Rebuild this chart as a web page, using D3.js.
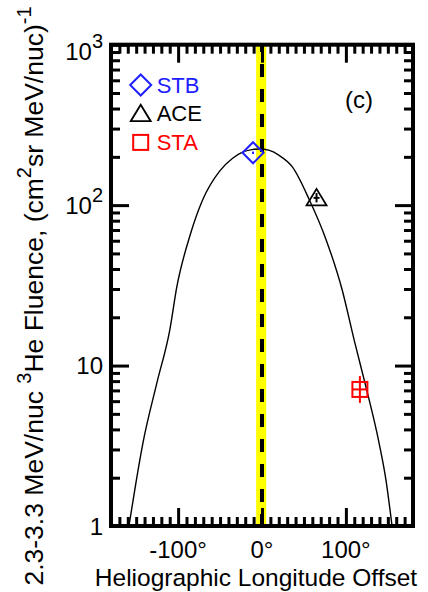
<!DOCTYPE html>
<html>
<head>
<meta charset="utf-8">
<script src="https://cdn.jsdelivr.net/npm/d3@7"></script>
<style>
  body { margin: 0; background: #fff; }
  text { font-family: "Liberation Sans", Arial, sans-serif; }
</style>
</head>
<body>
<script>
// fitted curve (longitude offset deg, fluence)
const curveLon = [-158.6, -150, -141.9, -125.3, -109.9, -101.5, -86.1, -70.7, -50.5, -35, -23.2, -12, -3, 8, 20, 36.2, 56.4, 76.6, 95.6, 109.9, 124.1, 139.5, 148, 155]
const curveVal = [1.0, 1.9, 3.3, 7.8, 16.7, 31, 64, 108, 163, 196, 214, 222, 224, 220, 205, 173, 108, 60.5, 29.6, 14.4, 7.3, 3.3, 1.9, 1.0]

// spacecraft points
const scNames = ["STB", "ACE", "STA"]
const scColors = ["#2020ff", "#000000", "#ff0000"]
const scLon = [-10.7, 65, 116.7]
const scVal = [212, 111, 7.1]
const scLow = [212, 104, 5.85]
const scHigh = [212, 119, 8.6]

const xTickVals = [-100, 0, 100]
const xTickLabels = ["-100°", "0°", "100°"]
const yTickVals = [1, 10, 100, 1000]
const yTickBase = ["1", "10", "10", "10"]
const yTickSup = ["", "", "2", "3"]

const bandLon = [-7, 5]
const panelLabel = "(c)"

const W = 428, H = 592
const pL = 111, pT = 44.7, pR = 413, pB = 526

const svg = d3.select("body").append("svg")
    .attr("width", W).attr("height", H)

svg.append("clipPath").attr("id", "plot")
   .append("rect").attr("x", pL).attr("y", pT).attr("width", pR - pL).attr("height", pB - pT)

const x = d3.scaleLinear().domain([-180, 180]).range([pL, pR])
const y = d3.scaleLog().domain([1, 1000]).range([pB, pT])

// yellow band + dashed zero line
svg.append("rect")
   .attr("x", x(bandLon[0]))
   .attr("y", pT)
   .attr("width", x(bandLon[1]) - x(bandLon[0]))
   .attr("height", pB - pT)
   .attr("fill", "#ffff00")

svg.append("line")
   .attr("x1", x(0)).attr("x2", x(0))
   .attr("y1", pB).attr("y2", pT)
   .attr("stroke", "#000")
   .attr("stroke-width", 4)
   .attr("stroke-dasharray", "13,12")
   .attr("stroke-dashoffset", 1)

// curve
const pts = curveLon.map((d, i) => [d, curveVal[i]])
svg.append("path")
   .datum(pts)
   .attr("clip-path", "url(#plot)")
   .attr("fill", "none")
   .attr("stroke", "#000")
   .attr("stroke-width", 1.4)
   .attr("d", d3.line().x(d => x(d[0])).y(d => y(d[1])).curve(d3.curveMonotoneX))

// axes (ticks pointing in)
const minorX = d3.range(-170, 180, 10).filter(d => d % 100 !== 0)
const minorY = []
;[1, 10, 100].forEach(dec => { for (let k = 2; k < 10; k++) minorY.push(dec * k) })

function noText(g) { g.selectAll("text").remove(); g.select(".domain").remove() }

const axes = [
  [d3.axisBottom(x).tickValues(minorX).tickSize(-9), `translate(0,${pB})`],
  [d3.axisBottom(x).tickValues(xTickVals).tickSize(-18), `translate(0,${pB})`],
  [d3.axisTop(x).tickValues(minorX).tickSize(-9), `translate(0,${pT})`],
  [d3.axisTop(x).tickValues(xTickVals).tickSize(-18), `translate(0,${pT})`],
  [d3.axisLeft(y).tickValues(minorY).tickSize(-9), `translate(${pL},0)`],
  [d3.axisLeft(y).tickValues(yTickVals).tickSize(-18), `translate(${pL},0)`],
  [d3.axisRight(y).tickValues(minorY).tickSize(-9), `translate(${pR},0)`],
  [d3.axisRight(y).tickValues(yTickVals).tickSize(-18), `translate(${pR},0)`]
]
axes.forEach(a => {
  svg.append("g").attr("transform", a[1]).call(a[0]).call(noText)
     .selectAll("line").attr("stroke", "#000").attr("stroke-width", 3)
})

// frame
svg.append("rect")
   .attr("x", pL).attr("y", pT)
   .attr("width", pR - pL).attr("height", pB - pT)
   .attr("fill", "none").attr("stroke", "#000").attr("stroke-width", 4)

// tick labels
svg.selectAll(".xl").data(xTickVals).enter().append("text")
   .attr("x", d => x(d))
   .attr("y", 558)
   .attr("text-anchor", "middle")
   .attr("font-size", 24)
   .text((d, i) => xTickLabels[i])

yTickVals.forEach((v, i) => {
  const t = svg.append("text")
     .attr("x", 103)
     .attr("y", y(v) + (i === 3 ? 15 : 8.5))
     .attr("text-anchor", "end")
     .attr("font-size", 24)
  t.append("tspan").text(yTickBase[i])
  if (yTickSup[i]) t.append("tspan").attr("dy", -12).attr("font-size", 20).text(yTickSup[i])
})

// axis titles
svg.append("text")
   .attr("x", 256).attr("y", 586)
   .attr("text-anchor", "middle")
   .attr("font-size", 24.5)
   .text("Heliographic Longitude Offset")

const yt = svg.append("text")
   .attr("transform", "translate(43,296) rotate(-90)")
   .attr("text-anchor", "middle")
   .attr("font-size", 26.5)
yt.append("tspan").text("2.3-3.3 MeV/nuc ")
yt.append("tspan").attr("font-size", 20).attr("dy", -12).text("3")
yt.append("tspan").attr("dy", 12).text("He Fluence, (cm")
yt.append("tspan").attr("font-size", 20).attr("dy", -12).text("2")
yt.append("tspan").attr("dy", 12).text("sr MeV/nuc)")
yt.append("tspan").attr("font-size", 20).attr("dy", -12).text("-1")

svg.append("text")
   .attr("x", 345).attr("y", 108)
   .attr("font-size", 24)
   .text(panelLabel)

// marker shapes
function marker(g, name, cx, cy, color) {
  if (name === "STB") {
    g.append("path").attr("d", `M${cx},${cy - 10.5}L${cx + 10.5},${cy}L${cx},${cy + 10.5}L${cx - 10.5},${cy}Z`)
     .attr("fill", "none").attr("stroke", color).attr("stroke-width", 2)
  } else if (name === "ACE") {
    g.append("path").attr("d", `M${cx},${cy - 9}L${cx + 10},${cy + 7.5}L${cx - 10},${cy + 7.5}Z`)
     .attr("fill", "none").attr("stroke", color).attr("stroke-width", 1.8)
  } else {
    g.append("rect").attr("x", cx - 7.5).attr("y", cy - 7.5).attr("width", 15).attr("height", 15)
     .attr("fill", "none").attr("stroke", color).attr("stroke-width", 2)
  }
}

// data points with error bars
scNames.forEach((n, i) => {
  const cx = x(scLon[i]), cy = y(scVal[i])
  const g = svg.append("g")
  marker(g, n, cx, cy, scColors[i])
  g.append("line").attr("x1", cx).attr("x2", cx)
   .attr("y1", y(scLow[i]) + (n === "STB" ? 1 : 0)).attr("y2", y(scHigh[i]) - (n === "STB" ? 1 : 0))
   .attr("stroke", scColors[i]).attr("stroke-width", 2)
  const hw = n === "STA" ? 7.5 : (n === "ACE" ? 3 : 1)
  g.append("line").attr("x1", cx - hw).attr("x2", cx + hw)
   .attr("y1", cy).attr("y2", cy)
   .attr("stroke", scColors[i]).attr("stroke-width", 2)
})

// legend
scNames.forEach((n, i) => {
  const ly = 85 + i * 28.7
  marker(svg, n, 140.7, ly, scColors[i])
  svg.append("text")
     .attr("x", 156.7).attr("y", ly + 7.5)
     .attr("font-size", 22)
     .attr("fill", scColors[i])
     .text(n)
})
</script>
</body>
</html>
